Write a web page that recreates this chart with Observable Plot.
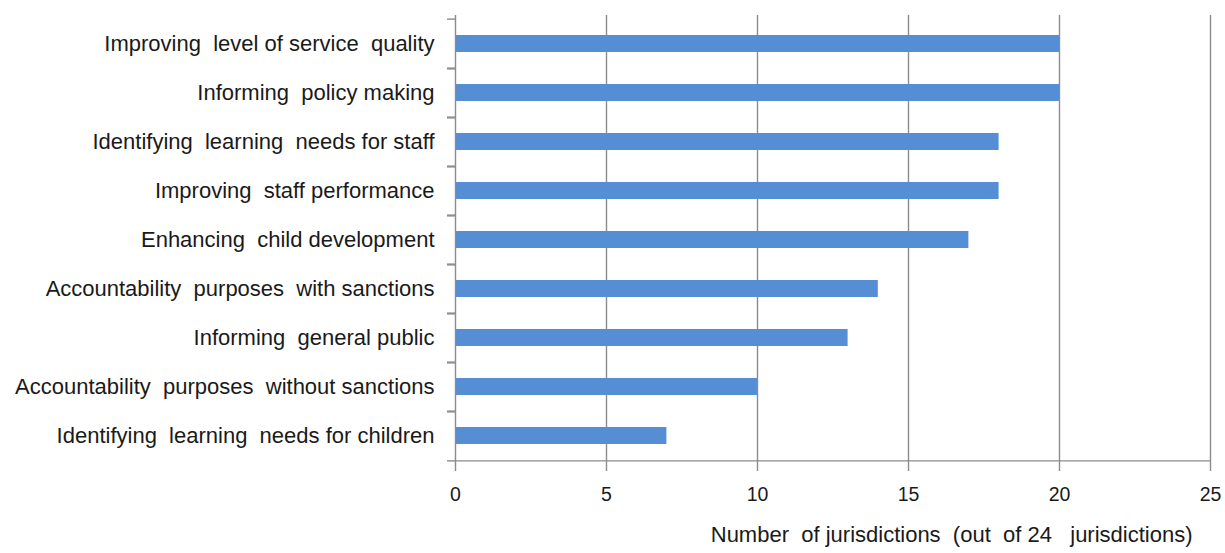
<!DOCTYPE html>
<html>
<head>
<meta charset="utf-8">
<script src="https://cdn.jsdelivr.net/npm/d3@7"></script>
<script src="https://cdn.jsdelivr.net/npm/@observablehq/plot@0.6"></script>
<style>
  html, body { margin: 0; padding: 0; background: #ffffff; overflow: hidden; }
  #chart { width: 1225px; height: 553px; }
  #chart svg { display: block; }
  svg text { white-space: pre; }
</style>
</head>
<body>
<div id="chart"></div>
<script>
const categories = [
  "Improving  level of service  quality",
  "Informing  policy making",
  "Identifying  learning  needs for staff",
  "Improving  staff performance",
  "Enhancing  child development",
  "Accountability  purposes  with sanctions",
  "Informing  general public",
  "Accountability  purposes  without sanctions",
  "Identifying  learning  needs for children"
];
const values = [20, 20, 18, 18, 17, 14, 13, 10, 7];
const xTicks = [0, 5, 10, 15, 20, 25];
const xTitle = "Number  of jurisdictions  (out  of 24   jurisdictions)";

const data = categories.map((c, i) => ({category: c, value: values[i]}));

const W = 1225, H = 553, mT = 15, mB = 90, mL = 455, mR = 15;
const step = (H - mT - mB) / categories.length;
const gridColor = "#8c8c8c";
const textColor = "#1a1a1a";

const chart = Plot.plot({
  width: W,
  height: H,
  marginTop: mT,
  marginBottom: mB,
  marginLeft: mL,
  marginRight: mR,
  style: {
    fontFamily: "'Liberation Sans', Arial, sans-serif",
    fontSize: "22px",
    color: textColor,
    background: "#ffffff",
    whiteSpace: "pre",
    display: "block"
  },
  x: {domain: [0, 25], label: null},
  y: {domain: categories, padding: 0, label: null},
  marks: [
    Plot.gridX(xTicks.slice(1), {stroke: gridColor, strokeOpacity: 1, strokeWidth: 1.4}),
    Plot.barX(data, {x: "value", y: "category", fill: "#558ed5", insetTop: 16, insetBottom: 16}),
    Plot.ruleX([0], {stroke: gridColor, strokeWidth: 1.4}),
    Plot.ruleY([categories[categories.length - 1]], {stroke: gridColor, strokeWidth: 1.4, dy: step / 2}),
    Plot.axisY({tickSize: 8, tickFormat: () => "", stroke: gridColor, strokeWidth: 1.4, dy: -step / 2, label: null}),
    Plot.axisY({tickSize: 8, tickFormat: () => "", stroke: gridColor, strokeWidth: 1.4, dy: step / 2, label: null}),
    Plot.axisY({tickSize: 0, tickPadding: 21, fill: textColor, fontSize: 22, label: null}),
    Plot.axisX({ticks: xTicks, tickSize: 8, tickPadding: 16, stroke: gridColor, strokeWidth: 1.4, fill: textColor, fontSize: 19.5, label: null}),
    Plot.text([xTitle], {frameAnchor: "bottom-right", textAnchor: "end", dx: -18, dy: 78, fill: textColor, fontSize: 22})
  ]
});

document.getElementById("chart").appendChild(chart);
</script>
</body>
</html>
